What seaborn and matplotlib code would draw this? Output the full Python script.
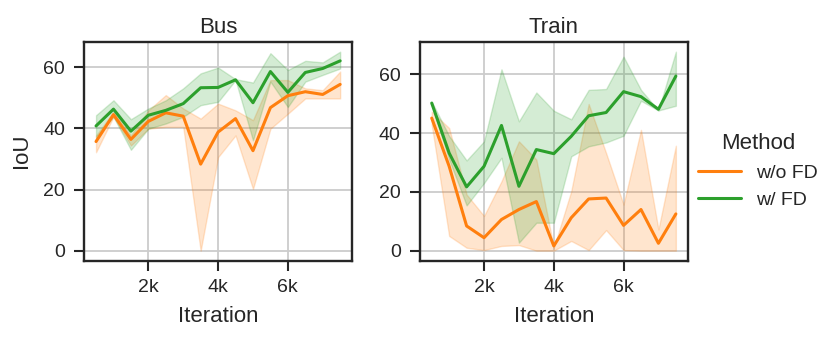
import numpy as np
import matplotlib
matplotlib.use("Agg")
import matplotlib.pyplot as plt
import seaborn as sns

iterations = [500, 1000, 1500, 2000, 2500, 3000, 3500, 4000,
              4500, 5000, 5500, 6000, 6500, 7000, 7500]
methods = ["w/o FD", "w/ FD"]
panels = ["Bus", "Train"]

# Bus: mean IoU and band (lower / upper) per method
bus_wo_mean = [35.7, 44.5, 36.4, 42.3, 45.1, 44.0, 28.3, 38.8, 43.2, 32.7, 46.8, 50.7, 52.0, 51.1, 54.4]
bus_wo_lo = [32.2, 43.8, 34.4, 39.9, 40.5, 40.5, 0.0, 30.6, 37.7, 20.2, 39.9, 44.8, 49.8, 49.8, 49.8]
bus_wo_hi = [37.7, 45.4, 37.7, 45.9, 50.9, 46.5, 43.2, 48.1, 45.9, 42.7, 55.8, 55.8, 53.1, 52.5, 58.6]
bus_w_mean = [40.8, 46.3, 39.1, 44.3, 45.9, 48.1, 53.3, 53.4, 55.9, 48.4, 58.6, 51.8, 58.3, 59.6, 62.1]
bus_w_lo = [37.2, 43.8, 33.0, 39.9, 41.6, 43.8, 47.6, 48.7, 55.8, 36.1, 55.3, 47.0, 55.3, 57.5, 59.6]
bus_w_hi = [44.3, 49.2, 43.0, 46.5, 49.2, 53.1, 58.0, 59.9, 56.1, 55.0, 64.6, 59.1, 62.1, 61.6, 65.1]

# Train
train_wo_mean = [45.1, 28.7, 8.4, 4.4, 10.6, 14.0, 16.7, 1.6, 11.2, 17.6, 17.9, 8.6, 14.0, 2.5, 12.5]
train_wo_lo = [42.8, 5.0, 1.0, 0.2, 1.6, 1.9, 0.0, 0.0, 3.3, 0.2, 7.0, 0.2, 0.0, 0.0, 0.0]
train_wo_hi = [47.3, 41.7, 19.1, 11.8, 23.6, 37.2, 31.0, 1.0, 20.2, 49.9, 33.2, 15.7, 41.1, 7.2, 35.7]
train_w_mean = [50.2, 33.2, 21.7, 28.7, 42.6, 21.9, 34.4, 33.0, 38.9, 45.9, 47.0, 54.1, 52.4, 48.1, 59.4]
train_w_lo = [49.6, 31.0, 15.4, 23.0, 31.6, 2.7, 9.5, 9.5, 32.1, 35.5, 36.8, 39.1, 51.0, 47.7, 49.3]
train_w_hi = [50.7, 39.0, 30.7, 37.2, 61.7, 44.0, 53.8, 47.6, 44.7, 54.7, 55.0, 66.0, 54.7, 47.7, 67.7]

colors = ["#ff7f0e", "#2ca02c"]

sns.set_theme(style="ticks", rc={"axes.grid": True, "grid.color": ".8",
                                 "grid.linewidth": 1.3})
plt.rcParams["font.family"] = ["Liberation Sans", "DejaVu Sans"]

fig, axes = plt.subplots(1, 2, figsize=(8.3, 3.42), dpi=100)
fig.subplots_adjust(left=0.101, right=0.829, bottom=0.238, top=0.878, wspace=0.25)

data = {
    "Bus": [(bus_wo_mean, bus_wo_lo, bus_wo_hi), (bus_w_mean, bus_w_lo, bus_w_hi)],
    "Train": [(train_wo_mean, train_wo_lo, train_wo_hi), (train_w_mean, train_w_lo, train_w_hi)],
}

for ax, panel in zip(axes, panels):
    for (mean, lo, hi), method, color in zip(data[panel], methods, colors):
        sns.lineplot(x=iterations, y=mean, ax=ax, color=color, linewidth=2.2, label=method)
        ax.fill_between(iterations, lo, hi, color=color, alpha=0.2, linewidth=1)
    ax.set_title(panel, fontsize=16)
    ax.set_xlabel("Iteration", fontsize=16, labelpad=7)
    ax.set_xticks([2000, 4000, 6000])
    ax.set_xticklabels(["2k", "4k", "6k"])
    ax.set_yticks([0, 20, 40, 60])
    ax.tick_params(labelsize=14, length=7.5, width=1.5, pad=6)
    for s in ax.spines.values():
        s.set_linewidth(1.7)
    ax.get_legend().remove()

axes[0].set_ylabel("IoU", fontsize=16, labelpad=8)
axes[1].set_ylabel("")

handles, labels = axes[0].get_legend_handles_labels()
fig.legend(handles, labels, title="Method", loc="center left",
           bbox_to_anchor=(0.82, 0.50), frameon=False,
           fontsize=14, title_fontsize=16, handlelength=2.2)

fig.savefig("out.png", dpi=100)
